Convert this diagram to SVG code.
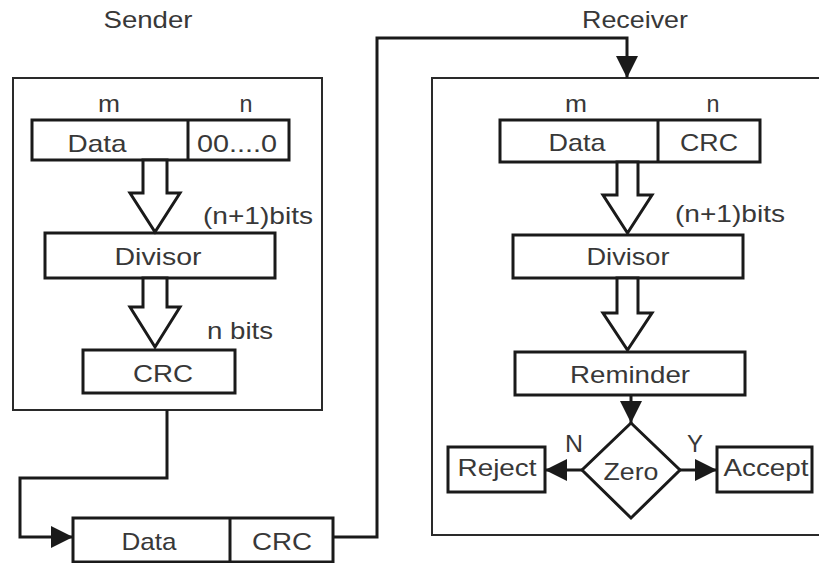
<svg xmlns="http://www.w3.org/2000/svg" width="819" height="563" viewBox="0 0 819 563">
<style>
text{font-family:"Liberation Sans",Arial,sans-serif;font-size:24px;fill:#383838;text-anchor:middle}
.box{fill:#fff;stroke:#1a1a1a;stroke-width:3}
.frame{fill:none;stroke:#2a2a2a;stroke-width:2}
.hollow{fill:#fff;stroke:#1a1a1a;stroke-width:3;stroke-linejoin:miter}
.wire{fill:none;stroke:#1a1a1a;stroke-width:3}
</style>
<defs>
<marker id="ah" viewBox="0 0 22 22" refX="22" refY="11" markerWidth="22" markerHeight="22" markerUnits="userSpaceOnUse" orient="auto">
<path d="M0,0 L22,11 L0,22 Z" fill="#1a1a1a"/>
</marker>
</defs>
<rect width="819" height="563" fill="#fff"/>

<g id="sender-frame">
<rect class="frame" x="13" y="78" width="309" height="332"/>
<text x="148" y="28" textLength="89" lengthAdjust="spacingAndGlyphs">Sender</text>
</g>
<g id="receiver-frame">
<rect class="frame" x="432" y="78" width="400" height="457"/>
<text x="635" y="28" textLength="106" lengthAdjust="spacingAndGlyphs">Receiver</text>
</g>

<g id="s-frame-data">
<text x="109" y="112" textLength="22" lengthAdjust="spacingAndGlyphs">m</text>
<text x="246" y="112" textLength="13" lengthAdjust="spacingAndGlyphs">n</text>
<rect class="box" x="32" y="120" width="257" height="40"/>
<line x1="188" y1="120" x2="188" y2="160" stroke="#1a1a1a" stroke-width="3"/>
<text x="97" y="152" textLength="59" lengthAdjust="spacingAndGlyphs">Data</text>
<text x="237" y="152" textLength="80" lengthAdjust="spacingAndGlyphs">00....0</text>
</g>
<g id="s-divisor">
<rect class="box" x="45" y="233" width="230" height="45"/>
<text x="158" y="265" textLength="87" lengthAdjust="spacingAndGlyphs">Divisor</text>
</g>
<g id="s-crc">
<rect class="box" x="83" y="350" width="152" height="43"/>
<text x="163" y="382" textLength="60" lengthAdjust="spacingAndGlyphs">CRC</text>
</g>
<g id="s-arrows">
<polygon class="hollow" points="143,160 167,160 167,193 180,193 155,232 130,193 143,193"/>
<text x="258" y="224" textLength="110" lengthAdjust="spacingAndGlyphs">(n+1)bits</text>
<polygon class="hollow" points="143,278 167,278 167,307 180,307 155,347 130,307 143,307"/>
<text x="240" y="339" textLength="66" lengthAdjust="spacingAndGlyphs">n bits</text>
</g>

<g id="frame">
<rect class="box" x="73" y="518" width="260" height="44"/>
<line x1="230" y1="518" x2="230" y2="562" stroke="#1a1a1a" stroke-width="3"/>
<text x="149" y="550" textLength="55" lengthAdjust="spacingAndGlyphs">Data</text>
<text x="282" y="550" textLength="60" lengthAdjust="spacingAndGlyphs">CRC</text>
</g>

<g id="r-frame-data">
<text x="576" y="112" textLength="22" lengthAdjust="spacingAndGlyphs">m</text>
<text x="713" y="112" textLength="13" lengthAdjust="spacingAndGlyphs">n</text>
<rect class="box" x="500" y="120" width="260" height="42"/>
<line x1="658" y1="120" x2="658" y2="162" stroke="#1a1a1a" stroke-width="3"/>
<text x="577" y="151" textLength="57" lengthAdjust="spacingAndGlyphs">Data</text>
<text x="709" y="151" textLength="58" lengthAdjust="spacingAndGlyphs">CRC</text>
</g>
<g id="r-divisor">
<rect class="box" x="513" y="235" width="230" height="43"/>
<text x="628" y="265" textLength="83" lengthAdjust="spacingAndGlyphs">Divisor</text>
</g>
<g id="r-reminder">
<rect class="box" x="515" y="352" width="230" height="43"/>
<text x="630" y="383" textLength="120" lengthAdjust="spacingAndGlyphs">Reminder</text>
</g>
<g id="r-zero">
<polygon class="box" points="631,423 680,470 631,518 582,470"/>
<text x="631" y="480" textLength="55" lengthAdjust="spacingAndGlyphs">Zero</text>
</g>
<g id="r-reject">
<rect class="box" x="448" y="447" width="97" height="45"/>
<text x="497" y="476" textLength="79" lengthAdjust="spacingAndGlyphs">Reject</text>
</g>
<g id="r-accept">
<rect class="box" x="717" y="447" width="95" height="45"/>
<text x="766" y="476" textLength="85" lengthAdjust="spacingAndGlyphs">Accept</text>
</g>
<g id="r-arrows">
<polygon class="hollow" points="617,162 638,162 638,195 652,195 627.5,233 603,195 617,195"/>
<text x="730" y="222" textLength="110" lengthAdjust="spacingAndGlyphs">(n+1)bits</text>
<polygon class="hollow" points="617,278 638,278 638,313 652,313 627.5,350 603,313 617,313"/>
</g>

<g id="connectors">
<polyline class="wire" points="167,410 167,478 20,478 20,537 73,537" marker-end="url(#ah)"/>
<polyline class="wire" points="333,537 377,537 377,38 627,38 627,78" marker-end="url(#ah)"/>
<line class="wire" x1="631" y1="395" x2="631" y2="423" marker-end="url(#ah)"/>
<line class="wire" x1="582" y1="470" x2="545" y2="470" marker-end="url(#ah)"/>
<line class="wire" x1="680" y1="470" x2="717" y2="470" marker-end="url(#ah)"/>
<text x="574" y="452" textLength="18" lengthAdjust="spacingAndGlyphs">N</text>
<text x="695" y="452" textLength="16" lengthAdjust="spacingAndGlyphs">Y</text>
</g>
</svg>
